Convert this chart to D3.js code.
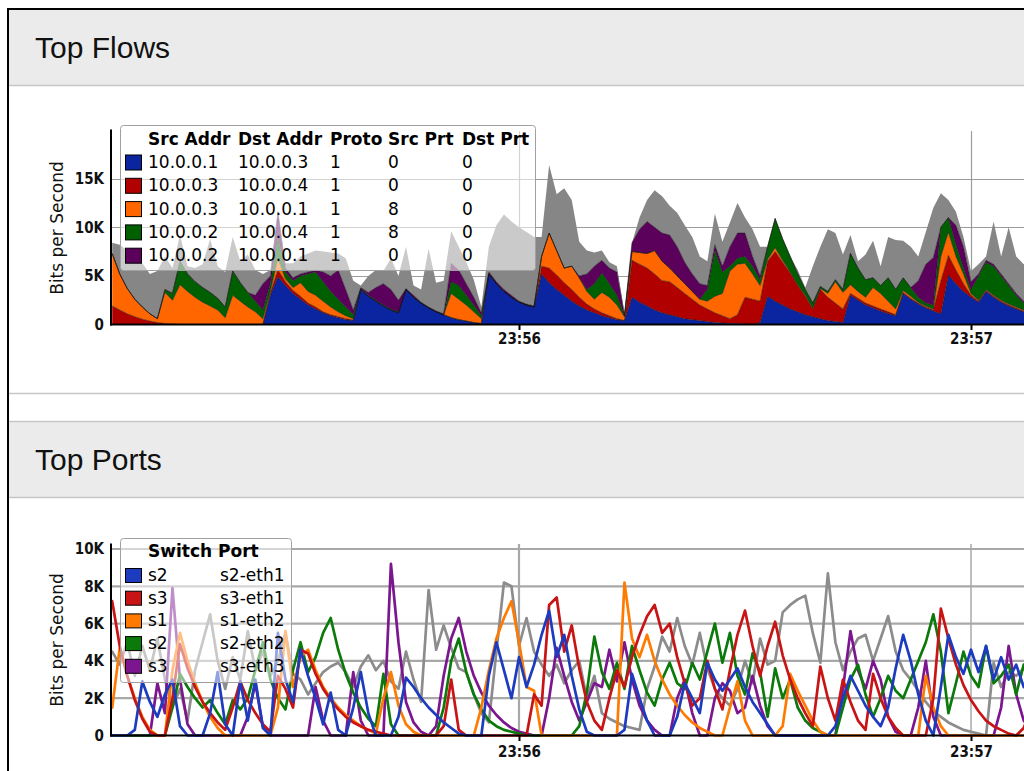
<!DOCTYPE html>
<html>
<head>
<meta charset="utf-8">
<script src="https://cdn.jsdelivr.net/npm/d3@7/dist/d3.min.js"></script>
<style>
html,body{margin:0;padding:0;background:#fff;overflow:hidden}
svg{display:block}
</style>
</head>
<body>
<svg id="chart" width="1024" height="771"></svg>
<script>
// ---------------- DATA ----------------
// samples: one per second starting 23:55:06
const sampleStart = [23, 55, 6];
const sampleStepSec = 1;
const timeTicks = ["23:56", "23:57"];
const flowYTicks = [0, 5, 10, 15];          // K bits/s
const portYTicks = [0, 2, 4, 6, 8, 10];     // K bits/s

const flowLegendHeader = ["Src Addr", "Dst Addr", "Proto", "Src Prt", "Dst Prt"];
const flowLegendRows = [
  ["10.0.0.1", "10.0.0.3", "1", "0", "0"],
  ["10.0.0.3", "10.0.0.4", "1", "0", "0"],
  ["10.0.0.3", "10.0.0.1", "1", "8", "0"],
  ["10.0.0.2", "10.0.0.4", "1", "8", "0"],
  ["10.0.0.2", "10.0.0.1", "1", "0", "0"]
];
const flowColors = ["#0b24a0", "#b00000", "#ff6600", "#005f00", "#5b005b", "#868686"];

const portLegendHeader = "Switch Port";
const portLegendRows = [["s2", "s2-eth1"], ["s3", "s3-eth1"], ["s1", "s1-eth2"], ["s2", "s2-eth2"], ["s3", "s3-eth3"]];
const portColors = ["#1c3bbf", "#c81414", "#ff7a00", "#0b7a0b", "#7b168f", "#8c8c8c"];

// Top Flows (stacked), values in K bits/s
const flowBlue = [
0,0,0,0,0,0,0,0,0,0,
0,0,0,0,0,0,0,0,0,0,
0,3.0,4.9,4.0,3.2,2.6,2.0,1.6,1.2,0.9,
0.7,0.5,0.4,3.6,2.9,2.4,1.9,1.5,1.2,3.6,
2.8,2.2,1.7,1.3,1.0,0.7,0.5,0.35,0.2,0.1,
5.2,4.2,3.4,2.8,2.3,2.0,1.8,5.2,4.3,3.6,
3.0,2.4,1.9,1.5,1.2,0.9,0.7,0.5,0.4,2.8,
2.3,1.9,1.5,1.2,1.0,0.8,0.6,0.5,0.4,0.3,
0.2,0.15,0.1,0.1,0.05,0,0.2,2.9,2.4,2.0,
1.6,1.3,1.0,0.8,0.6,0.4,0.3,0.2,3.0,2.5,
2.0,1.7,1.4,1.1,0.9,3.2,2.6,2.1,1.7,1.4,
1.1,5.1,4.2,3.4,2.8,2.3,3.4,2.8,2.3,1.9,
1.6,1.3,1.1];
const flowRed = [
1.9,1.5,1.1,0.8,0.55,0.35,0.2,0.1,0.05,0,
0,0,0,0,0,0,0,0,0,0,
0,0.3,0.7,0.4,0.3,0.3,0.2,0.2,0.1,0.1,
0.1,0.1,0.05,0,0,0,0,0,0,0,
0,0,0,0,0,0,0,0,0,0,
0,0,0,0,0,0,0,0.8,1.5,1.5,
1.3,1.2,0.9,0.6,0.4,0.3,0.2,0.1,0,3.8,
3.9,3.9,3.7,3.3,3.4,3.0,2.6,2.1,1.6,1.3,
1.0,0.75,0.5,0.9,2.75,2.6,2.2,3.6,5.1,4.4,
3.7,2.7,1.9,0.8,3.0,2.4,1.9,1.4,0.2,0.2,
0.2,0.2,0.2,0.2,0.1,0.1,0.1,0.1,0.1,0.1,
3.4,2.0,1.4,0.8,0.2,0.1,0.1,0.1,0.1,0.1,
0.1,0.1,0.1];
const flowOrange = [
5.4,3.7,2.6,1.8,1.25,0.75,0.4,3.2,2.45,4.1,
3.4,2.8,2.3,1.9,1.5,0.7,3.0,2.4,1.8,1.3,
0.6,0.2,1.2,0.3,0.3,1.4,1.2,1.2,1.1,0.8,
0.5,0.3,0.15,0,0,0,0,0,0,0,
0,0,0,0,0,2.5,2.1,1.65,1.1,0.5,
0,0,0,0,0,0,0,1.0,3.6,2.5,
1.5,2.4,2.0,1.3,1.0,2.1,1.9,1.4,0.4,0.9,
1.2,1.5,2.4,2.0,1.4,1.2,1.0,0.8,0.6,0.8,
1.7,2.3,4.9,5.2,3.5,2.6,1.6,0.2,0.4,0.2,
0.1,0.1,0.1,0.1,0.1,0.4,2.2,1.7,0.9,0.7,
0.6,1.9,1.6,1.1,0.6,0.2,0.2,0.1,0.1,0.1,
2.5,2.4,1.4,1.0,0.2,0.1,0.1,0.1,0.1,0.1,
0.1,0.1,0.1];
const flowGreen = [
0,0,0,0,0,0,0,0.3,0.7,2.4,
1.8,1.6,1.5,1.4,1.2,1.1,2.5,1.9,1.5,1.1,
0.9,0.7,2.2,0.7,0.7,0.7,1.8,2.4,2.0,1.6,
1.3,0.9,0.4,0.1,0.1,0.1,0.1,0.1,0.1,0,
0,0,0,0,0,1.2,1.4,1.0,0.7,0.3,
0,0,0,0,0,0,0,0,0,0,
0,0,0,0.2,1.6,2.0,1.4,1.0,0.1,0,
0,0,0,0,0,0,0,0,0,1.2,
4.7,2.2,0.5,0.6,0.7,0.8,0.6,1.3,3.0,2.2,
1.6,1.1,0.6,0.5,0.2,0.2,0.2,0.3,3.2,2.4,
1.8,1.0,0.8,2.4,2.0,1.3,0.9,0.5,0.3,0.4,
3.0,1.5,1.2,0.6,0.4,2.5,2.8,3.0,2.5,1.9,
1.2,0.7,0.5];
const flowPurple = [
0,0,0,0,0,0,0,0,0,0,
0,0,0,0,0,0,0,0,0,0.6,
2.7,0.8,2.6,0.4,0.3,0.2,0.2,0.2,1.0,1.6,
3.0,1.8,0.5,0.1,0.3,1.3,2.2,2.0,1.2,0.1,
0.2,0.1,0.1,0.1,0.1,1.9,1.6,1.2,0.8,0.3,
0.2,0.2,0.2,0.2,0.1,0.1,0.1,0,0,0,
0,0,0.2,1.6,1.8,1.3,1.6,2.4,0.1,0.9,
2.4,3.3,2.4,2.9,3.4,3.0,2.2,1.8,1.6,0.4,
0.6,0.6,2.0,2.6,2.4,1.0,0.4,0,0,0,
0,0,0,0,0,0,0,0,0,0,
0,0,0,0,0,0,0,1.7,4.0,4.9,
0,0,2.0,2.2,0.8,0.2,0.2,0.2,0.2,0.2,
0.2,0.2,0.2];
const flowOther = [
1.1,3.0,3.9,4.4,4.5,4.1,4.9,3.4,2.6,2.7,
0.8,1.4,2.4,5.5,3.3,3.6,3.5,2.2,3.9,2.6,
1.0,0.6,0,0.5,1.5,1.8,1.9,2.0,2.1,2.4,
1.7,3.2,3.0,0.2,1.7,1.8,1.3,3.2,2.5,4.3,
1.0,1.3,6.0,2.9,3.4,3.3,2.4,2.2,1.8,0.6,
2.6,5.8,7.7,7.6,7.6,7.4,7.1,2.0,7.0,5.8,
8.2,6.8,3.5,2.4,1.4,1.0,0.6,0.6,0.2,0,
1.2,2.2,3.8,3.8,3.0,3.5,3.8,3.8,2.8,2.5,
3.2,2.5,2.5,3.1,1.6,2.8,3.0,0,0,0,
0,0.4,0.2,3.8,4.1,6.4,4.8,3.6,1.9,0.7,
2.6,3.8,2.0,4.2,5.1,3.8,4.2,2.5,3.3,5.1,
3.5,1.8,1.4,1.0,1.1,1.0,0.4,4.4,1.8,5.8,
3.8,3.8,4.0];

// Top Ports (lines), values in K bits/s
const portBlue = [
0,0,0,0.3,2.9,1.8,1.0,2.2,3.0,0.5,
0,0,0,1.2,3.4,0.6,0,2.9,0.8,3.0,
0.4,0,5.5,3.0,1.8,4.6,3.2,2.0,0.6,2.3,
0.3,0,1.5,3.4,1.2,0,0,0,1.0,3.1,
2.6,2.0,1.5,1.1,0.7,0.4,0.1,0,0,0,
3.2,5.0,3.5,2.0,4.2,2.6,3.8,5.4,6.7,4.2,
5.4,3.2,1.4,0.2,0,0,0,0,0.3,3.3,
2.0,0.8,0,0,0,1.0,2.8,2.0,1.2,3.9,
3.0,2.4,3.0,3.6,2.6,1.8,1.2,0.6,0,0,
0,0,0,0,0,0,0.5,2.0,3.2,2.4,
1.6,1.0,0.5,1.5,3.6,5.4,4.0,2.2,0.8,0,
2.6,5.4,4.2,3.3,4.6,3.4,4.8,3.0,4.2,3.0,
3.8,2.6,3.0];
const portRed = [
7.2,4.8,3.2,1.9,0.9,0.2,0,0,2.0,4.9,
3.6,2.6,1.8,1.2,0.7,0.3,1.5,2.9,1.9,1.2,
0.6,0.2,3.2,2.5,1.5,4.6,4.4,3.3,2.5,1.9,
1.4,1.0,0.7,0.5,0.3,0.2,0.1,0,0,0,
0,0,0,0,0.5,3.0,0.3,0,0,0,
0,0,0,0,0,0,2.2,1.6,7.0,7.4,
4.5,5.9,3.6,1.8,0.8,0.3,2.0,3.5,2.6,4.2,
5.4,6.4,7.0,5.5,6.0,4.2,2.8,1.6,2.0,4.0,
2.5,1.4,3.5,5.4,6.7,4.8,3.2,4.8,6.1,4.3,
3.0,2.0,1.2,0.5,3.7,2.0,0.8,3.0,1.8,0.8,
0.3,3.3,2.0,1.0,0.4,0,0,0,0,2.0,
6.8,5.2,3.8,2.7,1.9,1.3,0.8,0.5,0.3,0.1,
0,0.4,1.5];
const portOrange = [
1.5,4.7,3.2,2.0,1.0,0.3,0,0,3.5,5.5,
4.0,2.8,1.8,1.0,0.4,0,0,0,0,0,
0,0,1.5,5.6,2.6,4.2,4.6,3.5,2.6,2.0,
1.5,1.1,0.8,0.5,0.3,0.1,2.0,3.4,1.6,0.6,
0.2,0,0,0,0,0,0,0,0,1.5,
3.5,5.2,6.3,7.2,5.0,2.6,2.4,0,0,0,
0,0,0,0,0,0,0,0,8.2,5.2,
4.2,5.4,4.0,3.0,2.2,1.6,1.1,0.7,0.4,0.2,
0,0,1.5,2.9,0.8,0,0,0,0,0.5,
3.3,2.4,1.6,0.8,0.2,0,0,0,0,0,
0,0,0,0,0,0,0,0,3.2,1.5,
0.5,0,0,0,0,0,0,0,0,0,
0,0,0];
const portGreen = [
0,0,0,0,0,0,0,0,1.5,3.3,
2.6,2.0,1.5,1.9,1.2,0.6,1.9,1.4,2.0,3.5,
5.0,3.0,2.0,1.4,3.5,5.0,3.4,4.2,5.5,6.3,
4.6,3.3,2.3,1.5,0.9,0.5,3.3,0.6,0,0,
0,0,0,0,1.5,4.0,5.2,3.4,2.2,1.4,
0.8,0.5,0.3,0.2,0.1,0,0,0,0,0,
0,0,0.5,2.3,5.3,3.4,2.5,3.9,2.5,4.8,
3.5,2.3,1.6,3.0,3.9,2.8,2.5,3.9,3.0,4.5,
6.0,3.9,5.5,3.2,2.2,4.4,3.4,1.0,3.6,2.0,
3.0,1.5,0.8,0.4,0.2,0,0,1.5,3.0,3.8,
2.2,1.0,2.0,3.2,2.4,2.0,3.0,4.0,5.0,6.5,
4.5,1.2,2.8,4.5,3.2,2.6,4.8,2.8,3.2,3.8,
2.2,3.8,2.8];
const portPurple = [
0,0,0,0,0,0,2.8,1.2,7.9,3.0,
0.6,0,0,0,0,0,0,0,1.0,2.8,
0.5,0,0,0,0,0,0,2.6,0.8,0,
0,0,3.4,0.8,0,0,0,9.2,5.0,1.8,
0.7,0.2,0,0.5,3.2,5.2,6.3,4.5,3.2,2.3,
1.6,1.1,0.7,0.4,0.2,0.1,0,0,2.0,4.7,
3.2,1.8,0.8,1.8,2.8,2.6,4.6,2.9,5.0,3.0,
1.6,0.8,0.3,0,0,2.0,3.0,1.2,0,0,
2.0,2.8,2.4,1.2,1.5,3.2,1.6,0.5,0,0,
0,0,0,0,0,0,0,2.5,5.6,3.5,
2.5,4.0,3.0,1.0,0.2,0,0,1.5,4.0,1.0,
0,0,0,0,0,0,0,0,1.5,4.8,
2.2,0.8,0.3];
const portOther = [
4.5,3.8,5.0,3.2,4.8,3.5,5.2,3.0,1.5,2.5,
0.8,3.5,5.0,6.5,4.0,2.5,4.2,3.0,5.6,3.5,
4.5,3.2,4.0,5.5,3.3,3.0,2.2,2.8,3.4,3.7,
3.9,3.4,2.6,3.7,4.3,3.5,4.0,2.9,2.5,4.5,
3.0,1.8,7.8,4.6,5.9,4.7,3.6,3.4,2.2,1.2,
0.7,4.5,8.2,8.0,4.8,6.3,4.5,3.8,3.2,3.8,
2.8,3.5,4.0,2.0,3.2,1.2,0.9,0.7,0.5,0.4,
0.3,2.5,3.7,5.3,4.5,6.3,4.8,3.8,5.5,3.6,
2.5,2.0,1.6,2.5,4.0,2.8,5.2,3.8,4.0,6.6,
7.0,7.3,7.5,5.5,3.9,8.7,5.0,3.5,4.5,5.2,
5.4,4.0,5.2,6.4,4.5,3.5,3.0,2.4,1.8,1.3,
1.0,0.7,0.5,0.3,0.2,0.1,0,3.9,2.6,3.4,
3.2,3.6,3.0];

// ---------------- DRAWING ----------------
const W = 1024, H = 771;
const svg = d3.select("#chart");
const FONT = "DejaVu Sans";
const TICKFONT = "DejaVu Sans Condensed, DejaVu Sans";

// page chrome
svg.append("rect").attr("x", 0).attr("y", 0).attr("width", W).attr("height", H).attr("fill", "#fff");
[[10, 75], [422, 75]].forEach(([y, h]) => {
  svg.append("rect").attr("x", 9).attr("y", y).attr("width", W - 9).attr("height", h).attr("fill", "#ebebeb");
});
[85.5, 393.5, 421.5, 497.5].forEach(y => {
  svg.append("line").attr("x1", 9).attr("x2", W).attr("y1", y).attr("y2", y)
    .attr("stroke", "#c6c6c6").attr("stroke-width", 1.5);
});
svg.append("path").attr("d", `M8,${H} V9 H${W}`).attr("fill", "none").attr("stroke", "#000").attr("stroke-width", 2);
svg.append("text").attr("x", 35).attr("y", 58).text("Top Flows")
  .attr("font-family", "Liberation Sans, Arial, sans-serif").attr("font-size", 30).attr("fill", "#111");
svg.append("text").attr("x", 35).attr("y", 470).text("Top Ports")
  .attr("font-family", "Liberation Sans, Arial, sans-serif").attr("font-size", 30).attr("fill", "#111");

// time scale
const hms = (h, m, s) => new Date(2020, 0, 1, h, m, s);
const times = flowBlue.map((_, i) => hms(sampleStart[0], sampleStart[1], sampleStart[2] + i * sampleStepSec));
const x = d3.scaleTime().domain([hms(23, 56, 0), hms(23, 57, 0)]).range([519, 971]);
const tickDates = timeTicks.map(s => { const p = s.split(":").map(Number); return hms(p[0], p[1], 0); });
const plotL = 111;

const defs = svg.append("defs");
defs.append("clipPath").attr("id", "clipF").append("rect").attr("x", plotL).attr("y", 100).attr("width", W - plotL).attr("height", 226);
defs.append("clipPath").attr("id", "clipP").append("rect").attr("x", plotL).attr("y", 520).attr("width", W - plotL).attr("height", 217);

function styleTickText(sel) {
  sel.selectAll("text").attr("font-family", TICKFONT).attr("font-weight", "bold").attr("font-size", 15).attr("fill", "#111");
}

// ===== Top Flows chart =====
const yF = d3.scaleLinear().domain([0, 20]).range([324.5, 130]);
const gF = svg.append("g");
gF.selectAll("line.hg").data(flowYTicks.filter(v => v > 0)).join("line").attr("class", "hg")
  .attr("x1", plotL).attr("x2", W).attr("y1", d => Math.round(yF(d)) + 0.5).attr("y2", d => Math.round(yF(d)) + 0.5)
  .attr("stroke", "#9c9c9c").attr("stroke-width", 1.2);
gF.selectAll("line.vg").data(tickDates).join("line").attr("class", "vg")
  .attr("x1", d => Math.round(x(d)) + 0.5).attr("x2", d => Math.round(x(d)) + 0.5)
  .attr("y1", 131).attr("y2", 324).attr("stroke", "#9c9c9c").attr("stroke-width", 1.2);

const flowKeys = ["blue", "red", "orange", "green", "purple", "other"];
const flowSeries = { blue: flowBlue, red: flowRed, orange: flowOrange, green: flowGreen, purple: flowPurple, other: flowOther };
const flowRows = times.map((t, i) => { const r = { t }; flowKeys.forEach(k => r[k] = flowSeries[k][i]); return r; });
const stacked = d3.stack().keys(flowKeys)(flowRows);
const area = d3.area().x(d => x(d.data.t)).y0(d => yF(d[0])).y1(d => yF(d[1]));
const gA = gF.append("g").attr("clip-path", "url(#clipF)");
gA.selectAll("path.layer").data(stacked).join("path").attr("class", "layer")
  .attr("d", area).attr("fill", (d, i) => flowColors[i]);
const edge = d3.line().x(d => x(d.data.t)).y(d => yF(d[1]));
gA.selectAll("path.edge").data(stacked.slice(0, 5)).join("path").attr("class", "edge")
  .attr("d", edge).attr("fill", "none").attr("stroke", "#111").attr("stroke-opacity", 0.55).attr("stroke-width", 0.9);

gF.append("g").attr("transform", `translate(${plotL},0)`)
  .call(d3.axisLeft(yF).tickValues(flowYTicks).tickFormat(v => v === 0 ? "0" : v + "K").tickSize(0).tickPadding(7))
  .call(g => g.select(".domain").remove()).call(styleTickText);
gF.append("g").attr("transform", "translate(0,325)")
  .call(d3.axisBottom(x).tickValues(tickDates).tickFormat(d3.timeFormat("%H:%M")).tickSize(5).tickPadding(3))
  .call(g => g.select(".domain").remove())
  .call(g => g.selectAll("line").attr("stroke", "#000").attr("stroke-width", 2))
  .call(styleTickText);
gF.append("line").attr("x1", plotL).attr("x2", plotL).attr("y1", 129.5).attr("y2", 325.5).attr("stroke", "#000").attr("stroke-width", 2);
gF.append("line").attr("x1", plotL - 1).attr("x2", W).attr("y1", 324.5).attr("y2", 324.5).attr("stroke", "#000").attr("stroke-width", 2);
svg.append("text").attr("transform", "translate(63,228) rotate(-90)").attr("text-anchor", "middle")
  .attr("font-family", FONT).attr("font-size", 17).attr("fill", "#111").text("Bits per Second");

// legend (flows)
const lgF = svg.append("g");
lgF.append("rect").attr("x", 120.5).attr("y", 125.5).attr("width", 415).attr("height", 145).attr("rx", 3)
  .attr("fill", "#fff").attr("fill-opacity", 0.56).attr("stroke", "#a0a0a0").attr("stroke-width", 1);
const flowCols = [148, 238, 330, 388, 462];
flowLegendHeader.forEach((h, j) => {
  lgF.append("text").attr("x", flowCols[j]).attr("y", 145).text(h)
    .attr("font-family", FONT).attr("font-weight", "bold").attr("font-size", 17).attr("fill", "#000");
});
flowLegendRows.forEach((row, i) => {
  const by = 168 + i * 23.3;
  lgF.append("rect").attr("x", 125.5).attr("y", by - 13).attr("width", 16).attr("height", 15)
    .attr("fill", flowColors[i]).attr("stroke", "#000").attr("stroke-width", 1);
  row.forEach((t, j) => {
    lgF.append("text").attr("x", flowCols[j]).attr("y", by).text(t)
      .attr("font-family", FONT).attr("font-size", 17).attr("fill", "#000");
  });
});

// ===== Top Ports chart =====
const yP = d3.scaleLinear().domain([0, 10]).range([735.5, 549]);
const gP = svg.append("g");
gP.selectAll("line.hg").data(portYTicks.filter(v => v > 0)).join("line").attr("class", "hg")
  .attr("x1", plotL).attr("x2", W).attr("y1", d => yP(d)).attr("y2", d => yP(d))
  .attr("stroke", "#a8a8a8").attr("stroke-width", 2.2);
gP.selectAll("line.vg").data(tickDates).join("line").attr("class", "vg")
  .attr("x1", d => x(d)).attr("x2", d => x(d)).attr("y1", 544).attr("y2", 735)
  .attr("stroke", "#a8a8a8").attr("stroke-width", (d, i) => i === 0 ? 2.2 : 1.5);

const portKeys = ["blue", "red", "orange", "green", "purple", "other"];
const portSeries = { blue: portBlue, red: portRed, orange: portOrange, green: portGreen, purple: portPurple, other: portOther };
const drawOrder = ["other", "purple", "green", "orange", "red", "blue"];
const line = d3.line().x((d, i) => x(times[i])).y(d => yP(d));
const gL = gP.append("g").attr("clip-path", "url(#clipP)");
gL.selectAll("path.ln").data(drawOrder).join("path").attr("class", "ln")
  .attr("d", k => line(portSeries[k])).attr("fill", "none")
  .attr("stroke", k => portColors[portKeys.indexOf(k)]).attr("stroke-width", 2.7)
  .attr("stroke-linejoin", "round").attr("stroke-linecap", "round");

gP.append("g").attr("transform", `translate(${plotL},0)`)
  .call(d3.axisLeft(yP).tickValues(portYTicks).tickFormat(v => v === 0 ? "0" : v + "K").tickSize(0).tickPadding(7))
  .call(g => g.select(".domain").remove()).call(styleTickText);
gP.append("g").attr("transform", "translate(0,736)")
  .call(d3.axisBottom(x).tickValues(tickDates).tickFormat(d3.timeFormat("%H:%M")).tickSize(5).tickPadding(5))
  .call(g => g.select(".domain").remove())
  .call(g => g.selectAll("line").attr("stroke", "#000").attr("stroke-width", 2))
  .call(styleTickText);
gP.append("line").attr("x1", plotL).attr("x2", plotL).attr("y1", 543.5).attr("y2", 736.5).attr("stroke", "#000").attr("stroke-width", 2);
gP.append("line").attr("x1", plotL - 1).attr("x2", W).attr("y1", 735.5).attr("y2", 735.5).attr("stroke", "#000").attr("stroke-width", 2);
svg.append("text").attr("transform", "translate(63,640) rotate(-90)").attr("text-anchor", "middle")
  .attr("font-family", FONT).attr("font-size", 17).attr("fill", "#111").text("Bits per Second");

// legend (ports)
const lgP = svg.append("g");
lgP.append("rect").attr("x", 120.5).attr("y", 538.5).attr("width", 171).attr("height", 144).attr("rx", 3)
  .attr("fill", "#fff").attr("fill-opacity", 0.52).attr("stroke", "#a0a0a0").attr("stroke-width", 1);
lgP.append("text").attr("x", 148).attr("y", 557).text(portLegendHeader)
  .attr("font-family", FONT).attr("font-weight", "bold").attr("font-size", 17).attr("fill", "#000");
portLegendRows.forEach((row, i) => {
  const by = 581 + i * 22.7;
  lgP.append("rect").attr("x", 125.5).attr("y", by - 12.5).attr("width", 16).attr("height", 14)
    .attr("fill", portColors[i]).attr("stroke", "#000").attr("stroke-width", 1);
  lgP.append("text").attr("x", 148).attr("y", by).text(row[0])
    .attr("font-family", FONT).attr("font-size", 17).attr("fill", "#000");
  lgP.append("text").attr("x", 220).attr("y", by).text(row[1])
    .attr("font-family", FONT).attr("font-size", 17).attr("fill", "#000");
});
</script>
</body>
</html>
